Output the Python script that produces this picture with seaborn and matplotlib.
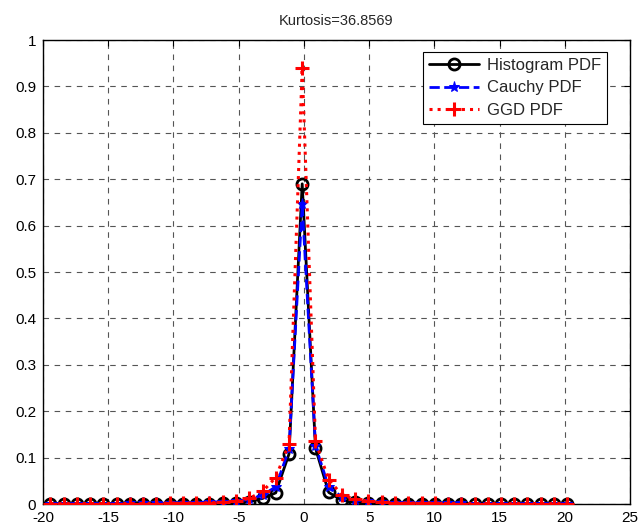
import matplotlib
matplotlib.use("Agg")
import matplotlib.pyplot as plt
import seaborn as sns
import pandas as pd

x_vals = [-19.43, -18.41, -17.40, -16.38, -15.37, -14.35, -13.33, -12.32, -11.30, -10.29,
          -9.27, -8.25, -7.24, -6.22, -5.21, -4.19, -3.17, -2.16, -1.14, -0.13,
          0.89, 1.90, 2.92, 3.94, 4.95, 5.97, 6.98, 8.00, 9.02, 10.03,
          11.05, 12.06, 13.08, 14.10, 15.11, 16.13, 17.14, 18.16, 19.18, 20.19]

hist_pdf = [0.001, 0.000, 0.001, 0.001, 0.001, 0.001, 0.001, 0.001, 0.001, 0.001,
            0.001, 0.001, 0.001, 0.002, 0.002, 0.005, 0.012, 0.024, 0.108, 0.690,
            0.120, 0.025, 0.008, 0.004, 0.002, 0.002, 0.001, 0.001, 0.001, 0.001,
            0.001, 0.001, 0.001, 0.001, 0.001, 0.001, 0.001, 0.000, 0.001, 0.001]

cauchy_pdf = [0.001, 0.001, 0.001, 0.001, 0.001, 0.001, 0.002, 0.002, 0.002, 0.002,
              0.003, 0.003, 0.004, 0.005, 0.006, 0.010, 0.019, 0.037, 0.118, 0.646,
              0.125, 0.037, 0.015, 0.008, 0.006, 0.004, 0.003, 0.003, 0.002, 0.002,
              0.002, 0.002, 0.001, 0.001, 0.001, 0.001, 0.001, 0.001, 0.001, 0.001]

ggd_pdf = [0.001, 0.001, 0.001, 0.001, 0.001, 0.001, 0.001, 0.001, 0.001, 0.002,
           0.002, 0.002, 0.003, 0.004, 0.006, 0.012, 0.027, 0.057, 0.130, 0.939,
           0.135, 0.052, 0.020, 0.010, 0.006, 0.004, 0.003, 0.002, 0.002, 0.002,
           0.001, 0.001, 0.001, 0.001, 0.001, 0.001, 0.001, 0.001, 0.001, 0.001]

series_names = ["Histogram PDF", "Cauchy PDF", "GGD PDF"]
title_text = "Kurtosis=36.8569"

sns.set_style("white")
plt.rcParams["font.family"] = ["Liberation Sans", "DejaVu Sans"]
plt.rcParams["axes.unicode_minus"] = False
plt.rcParams["xtick.direction"] = "in"
plt.rcParams["ytick.direction"] = "in"

fig = plt.figure(figsize=(6.43, 5.28), dpi=100)
ax = fig.add_axes([43/643, 1 - 504/528, (630 - 43)/643, (504 - 40)/528])

df = pd.DataFrame({"x": x_vals, "hist": hist_pdf, "cauchy": cauchy_pdf, "ggd": ggd_pdf})

sns.lineplot(data=df, x="x", y="hist", ax=ax, color="black", linestyle="-", linewidth=2,
             marker="o", markersize=8, markerfacecolor="none", markeredgecolor="black",
             markeredgewidth=2, label=series_names[0], zorder=3)
sns.lineplot(data=df, x="x", y="cauchy", ax=ax, color="blue", linestyle="--", linewidth=2,
             marker="*", markersize=8, markerfacecolor="blue", markeredgecolor="blue",
             label=series_names[1], zorder=4)
sns.lineplot(data=df, x="x", y="ggd", ax=ax, color="red", linestyle=":", linewidth=2.2,
             marker="+", markersize=10, markeredgewidth=2.2, markeredgecolor="red",
             label=series_names[2], zorder=5)

ax.set_xlim(-20, 25)
ax.set_ylim(0, 1)
ax.set_xticks(range(-20, 26, 5))
ax.set_yticks([i / 10 for i in range(11)])
ax.set_yticklabels(["0"] + [f"0.{i}" for i in range(1, 10)] + ["1"])
ax.set_xlabel("")
ax.set_ylabel("")
ax.set_title(title_text, fontsize=10.5, pad=11)
ax.tick_params(labelsize=11, length=4, width=0.8, top=True, right=True, colors="black")
ax.tick_params(axis="x", pad=5)
ax.tick_params(axis="y", pad=5)
ax.grid(True, linestyle=(0, (5, 5)), color="#555555", linewidth=0.8)
for s in ax.spines.values():
    s.set_visible(True)
    s.set_color("black")
    s.set_linewidth(1.0)

leg = ax.legend(loc="upper right", bbox_to_anchor=(0.961, 0.974), borderaxespad=0,
                fontsize=12, frameon=True, fancybox=False, edgecolor="black", framealpha=1,
                handlelength=3.0, borderpad=0.35, labelspacing=0.45, handletextpad=0.5)
leg.get_frame().set_linewidth(0.8)

fig.savefig("out.png", dpi=100)
